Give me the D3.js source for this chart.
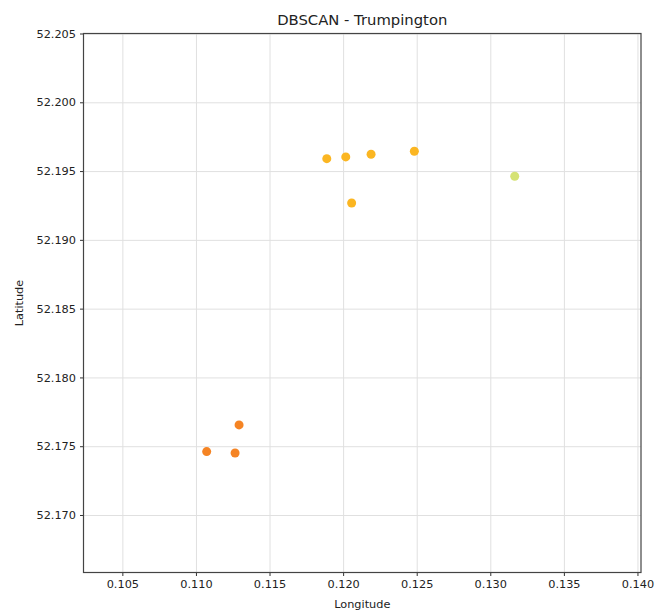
<!DOCTYPE html>
<html>
<head>
<meta charset="utf-8">
<script src="https://cdn.jsdelivr.net/npm/d3@7"></script>
<style>
  body { margin: 0; background: #fff; }
  svg text { font-family: "DejaVu Sans", sans-serif; fill: #222; }
  .grid line { stroke: #e0e0e0; stroke-width: 1; }
  .grid path { display: none; }
  .axis path { display: none; }
  .axis line { stroke: #333; }
</style>
</head>
<body>
<div id="chart"></div>
<script>
// cluster points
var lon = [0.11889, 0.12018, 0.12190, 0.12484, 0.12058, 0.13166, 0.11293, 0.11073, 0.11266];
var lat = [52.19590, 52.19603, 52.19622, 52.19644, 52.19268, 52.19462, 52.17655, 52.17461, 52.17451];
var cluster = [1, 1, 1, 1, 1, 2, 0, 0, 0];
var clusterColors = ["#f58424", "#fbb622", "#d5e274"];
var xTicks = [0.105, 0.110, 0.115, 0.120, 0.125, 0.130, 0.135, 0.140];
var yTicks = [52.170, 52.175, 52.180, 52.185, 52.190, 52.195, 52.200, 52.205];

function init()
{
    var w = 662;
    var h = 613;
    var left = 83.5, right = 641, top = 33.5, bottom = 572.5;

    var svg = d3.select("#chart")
        .append("svg")
        .attr("width", w)
        .attr("height", h);

    var xScale = d3.scaleLinear()
        .domain([0.10236, 0.14024])
        .range([left, right]);

    var yScale = d3.scaleLinear()
        .domain([52.16582, 52.205])
        .range([bottom, top]);

    // grid
    svg.append("g")
        .attr("class", "grid")
        .attr("transform", "translate(0," + bottom + ")")
        .call(d3.axisBottom(xScale).tickValues(xTicks).tickSize(-(bottom - top)).tickFormat(""));

    svg.append("g")
        .attr("class", "grid")
        .attr("transform", "translate(" + left + ",0)")
        .call(d3.axisLeft(yScale).tickValues(yTicks).tickSize(-(right - left)).tickFormat(""));

    // axes
    var xAxis = svg.append("g")
        .attr("class", "axis")
        .attr("transform", "translate(0," + bottom + ")")
        .call(d3.axisBottom(xScale).tickValues(xTicks).tickSize(3.5).tickPadding(4).tickFormat(d3.format(".3f")));

    var yAxis = svg.append("g")
        .attr("class", "axis")
        .attr("transform", "translate(" + left + ",0)")
        .call(d3.axisLeft(yScale).tickValues(yTicks).tickSize(3.5).tickPadding(4).tickFormat(d3.format(".3f")));

    svg.selectAll(".axis text")
        .style("font-size", "11.3px")
        .style("font-family", "'DejaVu Sans', sans-serif")
        .attr("fill", "#222");

    // points
    svg.selectAll("circle")
        .data(lon)
        .enter()
        .append("circle")
        .attr("cx", function(d) { return xScale(d); })
        .attr("cy", function(d, i) { return yScale(lat[i]); })
        .attr("r", 4.5)
        .attr("fill", function(d, i) { return clusterColors[cluster[i]]; });

    // frame
    svg.append("rect")
        .attr("x", left)
        .attr("y", top)
        .attr("width", right - left)
        .attr("height", bottom - top)
        .attr("fill", "none")
        .attr("stroke", "#444")
        .attr("stroke-width", 1.2);

    // labels
    svg.append("text")
        .attr("x", (left + right) / 2)
        .attr("y", 25)
        .attr("text-anchor", "middle")
        .style("font-size", "14.8px")
        .text("DBSCAN - Trumpington");

    svg.append("text")
        .attr("x", (left + right) / 2)
        .attr("y", 608)
        .attr("text-anchor", "middle")
        .style("font-size", "11.3px")
        .text("Longitude");

    svg.append("text")
        .attr("transform", "translate(23," + ((top + bottom) / 2) + ") rotate(-90)")
        .attr("text-anchor", "middle")
        .style("font-size", "11.3px")
        .text("Latitude");
}

window.onload = init;
</script>
</body>
</html>
